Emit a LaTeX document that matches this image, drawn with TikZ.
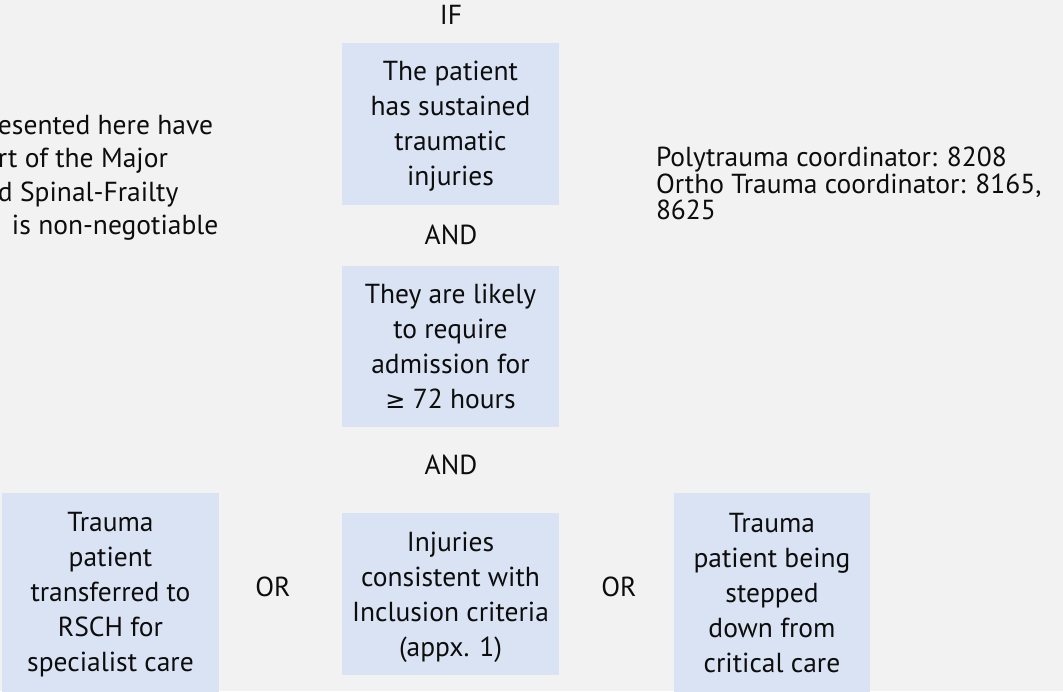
\documentclass[tikz,border=0pt]{standalone}
\usepackage{fontspec}
\setmainfont{PT Sans}
\newfontfamily\symfont{DejaVu Sans}
\definecolor{bg}{HTML}{F2F2F2}
\definecolor{boxfill}{HTML}{DAE3F3}
\definecolor{ink}{HTML}{0D0D0D}
\begin{document}
\begin{tikzpicture}[x=1pt,y=-1pt,
  every node/.style={inner sep=0pt, outer sep=0pt, text=ink},
  cbox/.style={fill=boxfill},
  ctext/.style={align=center, font=\fontsize{27.5}{35}\selectfont},
  lbl/.style={font=\fontsize{27.5}{35}\selectfont},
  note/.style={align=left, anchor=west}]
\path[fill=bg, use as bounding box] (0,0) rectangle (1063,691);
\clip (0,0) rectangle (1063,691);
% labels
\node[lbl] (if) at (451,15) {IF};
\node[lbl] (and1) at (451,235) {AND};
\node[lbl] (and2) at (451,465) {AND};
\node[lbl] (or1) at (273,587) {OR};
\node[lbl] (or2) at (619,587) {OR};
% boxes
\node[cbox, minimum width=217pt, minimum height=162pt] (b1) at (450.5,124) {};
\node[cbox, minimum width=217pt, minimum height=161pt] (b2) at (450.5,346.5) {};
\node[cbox, minimum width=217pt, minimum height=162pt] (b3) at (450.5,594) {};
\node[cbox, minimum width=217pt, minimum height=199pt] (b4) at (110.5,592.5) {};
\node[cbox, minimum width=196pt, minimum height=199pt] (b5) at (772,592.5) {};
% box texts
\node[ctext] (t1) at (450.5,126.5)
  {The patient\\has sustained\\traumatic\\injuries};
\node[ctext] (t2) at (450.5,346)
  {They are likely\\to require\\admission for\\{\symfont\fontsize{24}{35}\selectfont ≥} 72 hours};
\node[ctext] (t3) at (450.5,597.5)
  {Injuries\\consistent with\\Inclusion criteria\\(appx. 1)};
\node[ctext] (t4) at (110.5,595)
  {Trauma\\patient\\transferred to\\RSCH for\\specialist care};
\node[ctext] (t5) at (772,593)
  {Trauma\\patient being\\stepped\\down from\\critical care};
% side notes
\node[note, font=\fontsize{27.5}{33.5}\selectfont] (left) at (-2,178)
  {esented here have\\rt of the Major\\d Spinal-Frailty\\\hspace*{14pt}is non-negotiable};
\node[note, font=\fontsize{27.5}{26.5}\selectfont] (right) at (656,183.5)
  {Polytrauma coordinator: 8208\\Ortho Trauma coordinator: 8165,\\8625};
\end{tikzpicture}
\end{document}
